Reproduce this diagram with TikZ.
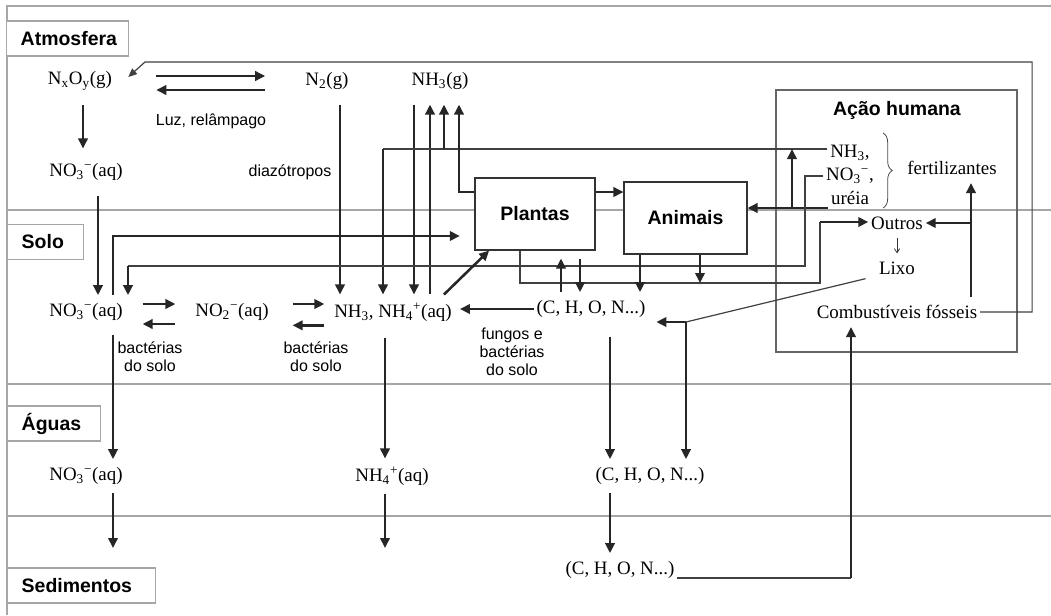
\documentclass[tikz,border=0pt]{standalone}
\usepackage{fontspec}
\setmainfont{Liberation Serif}
\setsansfont{Liberation Sans}
\usetikzlibrary{arrows.meta,decorations.pathreplacing}

\newcommand\chemsize{\fontsize{14.2}{16}\selectfont}
\newcommand\remarksize{\sffamily\fontsize{12}{13.5}\selectfont}
\newcommand\titlesize{\sffamily\bfseries\fontsize{14.6}{16}\selectfont}

\begin{document}
\begin{tikzpicture}[
  x=0.75pt, y=-0.75pt,
  stratum/.style={draw=gray!70, line width=1.4pt},
  zone/.style={draw=gray!70, fill=white, line width=1.1pt, anchor=west,
    font=\titlesize, inner xsep=10.5pt, text width=#1, align=left,
    minimum height=26pt},
  organism/.style={draw=black!80, fill=white, line width=0.8pt,
    font=\titlesize, minimum height=54pt},
  chem/.style={font=\chemsize, inner xsep=2pt, inner ysep=6pt},
  gas/.style={chem, inner ysep=11pt},
  remark/.style={font=\remarksize, align=center, inner sep=1pt},
  flow/.style={draw=black!85, line width=1.9pt,
    -{Triangle[length=7.5pt,width=7pt]}},
  wire/.style={draw=black!75, line width=0.9pt},
  tinyarrow/.style={draw=black!80, line width=0.6pt,
    -{Straight Barb[length=3pt,width=4pt]}}]

\useasboundingbox (0,0) rectangle (1051,615);
\fill[white] (0,0) rectangle (1051,615);

% frame and strata
\draw[stratum] (1051,6) -- (7,6) -- (7,615);
\foreach \y in {210,384,516}
  \draw[stratum] (7,\y) -- (1051,\y);

\node[zone=70.5pt] (atmosfera) at (6,38.5) {Atmosfera};
\node[zone=36pt] (solo) at (7,242) {Solo};
\node[zone=48.75pt] (aguas) at (7,423.5) {Águas};
\node[zone=90pt] (sedimentos) at (7,585.5) {Sedimentos};

% human action box
\node[draw=black!60, line width=0.8pt, minimum width=180.75pt,
  minimum height=196.5pt] (acao) at (896.5,221) {};
\node[font=\titlesize] (acaotitle) at (897,110) {Ação humana};

\node[organism, minimum width=90pt] (plantas) at (535,214) {Plantas};
\node[organism, minimum width=92.25pt] (animais) at (685.5,218) {Animais};

% atmosphere
\node[gas] (nxoy) at (80,81) {N\textsubscript{x}O\textsubscript{y}(g)};
\node[gas] (n2) at (327,81) {N\textsubscript{2}(g)};
\node[gas] (nh3g) at (440,81) {NH\textsubscript{3}(g)};
\node[gas] (no3atm) at (86,172) {NO\textsubscript{3}\textsuperscript{−}(aq)};
\node[remark] (luz) at (211,121) {Luz, relâmpago};
\node[remark] (diazo) at (290,172) {diazótropos};

% soil
\node[chem] (no3solo) at (86,312) {NO\textsubscript{3}\textsuperscript{−}(aq)};
\node[chem] (no2solo) at (232,312) {NO\textsubscript{2}\textsuperscript{−}(aq)};
\node[chem] (nh4solo) at (393,312) {NH\textsubscript{3}, NH\textsubscript{4}\textsuperscript{+}(aq)};
\node[chem] (chonsolo) at (591,309) {(C, H, O, N...)};
\node[remark] (bact1) at (150,357) {bactérias\\do solo};
\node[remark] (bact2) at (316,357) {bactérias\\do solo};
\node[remark] (fungos) at (512,352) {fungos e\\bactérias\\do solo};

% waters and sediments
\node[chem] (no3agua) at (86,476) {NO\textsubscript{3}\textsuperscript{−}(aq)};
\node[chem] (nh4agua) at (392,476) {NH\textsubscript{4}\textsuperscript{+}(aq)};
\node[chem] (chonagua) at (650,476) {(C, H, O, N...)};
\node[chem] (chonsed) at (620,570) {(C, H, O, N...)};
\coordinate (no3sink) at (113,548);
\coordinate (nh4sink) at (385,548);

% human action contents
\node[chem] (fnh3) at (850,153) {NH\textsubscript{3},};
\node[chem] (fno3) at (850,176) {NO\textsubscript{3}\textsuperscript{−},};
\node[chem] (furea) at (850,198) {uréia};
\node[chem] (fertil) at (952,168) {fertilizantes};
\node[chem] (outros) at (897,223) {Outros};
\node[chem] (lixo) at (897,268) {Lixo};
\node[chem] (combust) at (897,312) {Combustíveis fósseis};
\draw[black!70, line width=0.6pt, decorate,
  decoration={brace, amplitude=7pt}] (883,133) -- (883,208);

% atmosphere links
\draw[wire, -{Triangle[length=6.5pt,width=5.5pt]}]
  (combust.east) -- ++(52,0) |- (145,62) -- ([xshift=10pt,yshift=3pt]nxoy.east);
\draw[flow, shorten <=31pt, shorten >=28pt]
  ([yshift=3.75pt]nxoy.east) -- ([yshift=3.75pt]n2.west);
\draw[flow, shorten <=28pt, shorten >=31pt]
  ([yshift=-6.75pt]n2.west) -- ([yshift=-6.75pt]nxoy.east);
\draw[flow] (83,0 |- nxoy.south) -- (83,0 |- no3atm.north);
\draw[flow] (98,0 |- no3atm.south) -- (98,0 |- no3solo.north);
\draw[flow] (340,0 |- n2.south) -- (340,0 |- nh4solo.north);
\draw[flow] (414,0 |- nh3g.south) -- (414,0 |- nh4solo.north);
\draw[flow] (430,0 |- nh4solo.north) -- (430,0 |- nh3g.south);

% fertilizer routes
\coordinate (nh3lane) at (383,149);
\draw[wire] ([yshift=3pt]fnh3.west) -- (nh3lane);
\draw[flow] (nh3lane) -- (383,0 |- nh4solo.north);
\draw[flow] (nh3lane -| 444,0) -- (444,0 |- nh3g.south);
\draw[flow] (furea.west |- 0,208) -- (0,208 -| animais.east);
\draw[flow] (792,208) -- (nh3lane -| 792,0);
\draw[wire] (fno3.west) -- (805,0 |- fno3.west) |- (128,266);
\draw[flow] (128,266) -- (128,0 |- no3solo.north);

% soil links
\draw[flow, shorten >=11pt] (113,0 |- no3solo.north) |- (0,236 -| plantas.west);
\draw[flow] (0,192 -| plantas.west) -| (459,0 |- nh3g.south);
\draw[flow] ([xshift=-8pt]nh4solo.north east) -- ([xshift=11pt]plantas.south west);
\draw[flow, shorten >=4pt] (chonsolo.west) -- (chonsolo.west -| nh4solo.east);
\draw[flow] (0,192 -| plantas.east) -- (0,192 -| animais.west);
\draw[wire] (520,0 |- plantas.south) |- (820,283) -- (820,222);
\draw[flow] (820,222) -- (0,222 -| outros.west);
\draw[flow] (700,0 |- animais.south) -- (700,283);
\draw[flow] (640,0 |- animais.south) -- (640,0 |- chonsolo.north);
\draw[flow, shorten >=6pt] (561,0 |- chonsolo.north) -- (561,0 |- plantas.south);
\draw[flow, shorten <=6pt] (580,0 |- plantas.south) -- (580,0 |- chonsolo.north);
\draw[flow, shorten <=12.75pt, shorten >=12.75pt]
  ([yshift=6pt]no3solo.east) -- ([yshift=6pt]no2solo.west);
\draw[flow, shorten <=12.75pt, shorten >=12.75pt]
  ([yshift=-9pt]no2solo.west) -- ([yshift=-9pt]no3solo.east);
\draw[flow, shorten <=15.75pt, shorten >=5.25pt]
  ([yshift=6pt]no2solo.east) -- ([yshift=6pt]nh4solo.west);
\draw[flow, shorten <=5.25pt, shorten >=15.75pt]
  ([yshift=-10pt]nh4solo.west) -- ([yshift=-10pt]no2solo.east);

% human action links
\draw[flow] (971,0 |- combust.north) -- (971,0 |- fertil.south);
\draw[flow] (971,0 |- outros.east) -- (outros.east);
\draw[tinyarrow] (outros.south) -- (lixo.north);
\coordinate (lixodrop) at (686,322);
\draw[wire] ([xshift=-8pt,yshift=-8pt]lixo.west) -- (lixodrop);
\draw[flow, shorten >=6pt] (lixodrop) -- (lixodrop -| chonsolo.east);
\draw[flow] (lixodrop) -- (lixodrop |- chonagua.north);

% waters and sediments links
\draw[flow, shorten <=4.5pt] (113,0 |- no3solo.south) -- (113,0 |- no3agua.north);
\draw[flow] (113,0 |- no3agua.south) -- (no3sink);
\draw[flow, shorten <=6pt] (385,0 |- nh4solo.south) -- (385,0 |- nh4agua.north);
\draw[flow] (385,0 |- nh4agua.south) -- (nh4sink);
\draw[flow, shorten <=8pt] (610,0 |- chonsolo.south) -- (610,0 |- chonagua.north);
\draw[flow] (610,0 |- chonagua.south) -- (610,0 |- chonsed.north);
\coordinate (sedcorner) at (851,578);
\draw[wire] ([yshift=-6pt]chonsed.east) -- (sedcorner);
\draw[flow] (sedcorner) -- (851,0 |- combust.south);
\end{tikzpicture}
\end{document}
